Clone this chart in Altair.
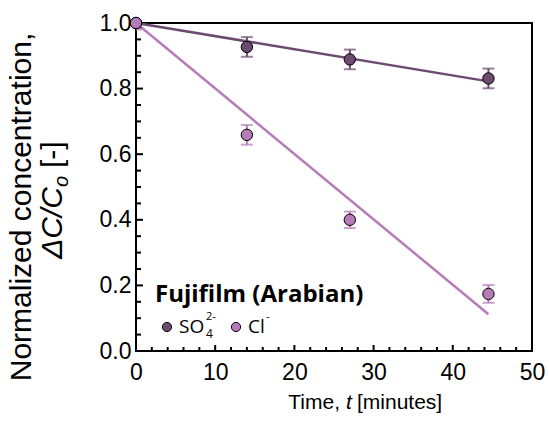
import altair as alt
import pandas as pd

# Plot area in pixels
W, H = 396, 328
FONT = "Liberation Sans"
LEGEND_FONT = "Open Sans"

# Measured concentrations (normalized) versus time for two anions
time_min = [0, 14, 27, 44.5]
so4 = [1.0, 0.927, 0.889, 0.831]
so4_err = [0.015, 0.03, 0.03, 0.03]
cl = [1.0, 0.659, 0.400, 0.174]
cl_err = [0.02, 0.03, 0.025, 0.027]

# Linear fits (end points)
fit_t = [0, 44.5]
so4_fit = [1.0, 0.822]
cl_fit = [1.0, 0.112]

# Tick positions
x_major = [0, 10, 20, 30, 40, 50]
x_minor = [t for t in range(0, 51, 2) if t % 10 != 0]
y_major = [0.0, 0.2, 0.4, 0.6, 0.8, 1.0]
y_minor = [round(i * 0.05, 2) for i in range(21) if i % 4 != 0]

SO4_COLOR = "#6d4a70"
CL_COLOR = "#b67bb9"

xs = alt.Scale(domain=[0, 50], nice=False)
ys = alt.Scale(domain=[0, 1], nice=False)

x_axis = alt.Axis(values=x_major, format="d", ticks=False, domain=False, grid=False,
                  labelPadding=10, labelFlush=False, labelOverlap=False)
y_axis = alt.Axis(values=y_major, format=".1f", ticks=False, domain=False, grid=False,
                  labelPadding=5, labelFlush=False, labelOverlap=False)


def X():
    return alt.X("t:Q", scale=xs, axis=x_axis, title=None)


def Y(field="v"):
    return alt.Y(f"{field}:Q", scale=ys, axis=y_axis, title=None)


def series(values, errs, fit, color):
    pts = pd.DataFrame({"t": time_min, "v": values, "e": errs})
    pts["lo"] = pts["v"] - pts["e"]
    pts["hi"] = pts["v"] + pts["e"]
    fit_df = pd.DataFrame({"t": fit_t, "v": fit})
    line = alt.Chart(fit_df).mark_line(color=color, strokeWidth=2.5).encode(x=X(), y=Y())
    bar = alt.Chart(pts).mark_rule(color=color, strokeWidth=2, clip=True).encode(
        x=X(), y=Y("lo"), y2="hi:Q")
    cap_lo = alt.Chart(pts).mark_tick(color=color, orient="horizontal", size=12,
                                      thickness=2, clip=True).encode(x=X(), y=Y("lo"))
    cap_hi = alt.Chart(pts).mark_tick(color=color, orient="horizontal", size=12,
                                      thickness=2, clip=True).encode(x=X(), y=Y("hi"))
    dots = alt.Chart(pts).mark_circle(size=130, color=color, opacity=1, stroke="black",
                                      strokeWidth=1).encode(x=X(), y=Y())
    return line, [bar, cap_lo, cap_hi], dots


so4_line, so4_err_marks, so4_dots = series(so4, so4_err, so4_fit, SO4_COLOR)
cl_line, cl_err_marks, cl_dots = series(cl, cl_err, cl_fit, CL_COLOR)


# Inward ticks
def xticks(vals, length):
    return alt.Chart(pd.DataFrame({"t": vals})).mark_rule(color="black", strokeWidth=2).encode(
        x=X(), y=alt.value(H), y2=alt.value(H - length))


def yticks(vals, length):
    return alt.Chart(pd.DataFrame({"v": vals})).mark_rule(color="black", strokeWidth=2).encode(
        y=Y(), x=alt.value(0), x2=alt.value(length))


one = pd.DataFrame({"a": [0]})


def label(text, x, y, size=22, style="normal", weight="normal", angle=0,
          align="left", baseline="alphabetic", font=FONT):
    return alt.Chart(one).mark_text(
        text=text, font=font, fontSize=size, fontStyle=style, fontWeight=weight,
        angle=angle, align=align, baseline=baseline, color="black",
    ).encode(x=alt.value(x), y=alt.value(y))


# x-axis title: "Time, t [minutes]" with italic t
xa = 204
x_title = [
    label("Time,", xa, 386, size=21, align="right"),
    label("t", xa + 6, 386, size=21, style="italic"),
    label("[minutes]", xa + 17, 386, size=21),
]

# y-axis title, two rotated lines; second line has italic C's and subscript o
ya = 164
yx = -74
y_title = [
    label("Normalized concentration,", -114, 184, size=30, angle=270, align="center",
          baseline="middle"),
    label("\u0394C/C", yx, ya, size=30, style="italic", angle=270, align="right"),
    label("o", yx + 6, ya, size=20, style="italic", angle=270),
    label("[-]", yx, ya - 19, size=30, angle=270),
]

# Legend
legend = [
    label("Fujifilm (Arabian)", 19, 279, size=24, weight="bold", font=LEGEND_FONT),
    alt.Chart(one).mark_circle(size=85, color=SO4_COLOR, opacity=1, stroke="black",
                               strokeWidth=1).encode(x=alt.value(31), y=alt.value(304)),
    label("SO", 43, 310, size=19, font=LEGEND_FONT),
    label("4", 70, 315, size=12, font=LEGEND_FONT),
    label("2-", 70, 297, size=11, font=LEGEND_FONT),
    alt.Chart(one).mark_circle(size=85, color=CL_COLOR, opacity=1, stroke="black",
                               strokeWidth=1).encode(x=alt.value(100), y=alt.value(304)),
    label("Cl", 112, 310, size=19, font=LEGEND_FONT),
    label("-", 130, 297, size=11, font=LEGEND_FONT),
]

chart = alt.layer(
    xticks(x_major, 6), xticks(x_minor, 4), yticks(y_major, 7), yticks(y_minor, 5),
    so4_line, cl_line,
    *so4_err_marks, *cl_err_marks,
    so4_dots, cl_dots,
    *x_title, *y_title, *legend,
).properties(
    width=W, height=H,
    autosize=alt.AutoSizeParams(type="none"),
    padding={"left": 136, "top": 23, "right": 17, "bottom": 81},
).configure_view(
    stroke="black", strokeWidth=2,
).configure_axis(
    labelFont=FONT, labelFontSize=23, labelColor="black",
)

chart.save("out.html", embed_options={"renderer": "svg", "actions": False})
